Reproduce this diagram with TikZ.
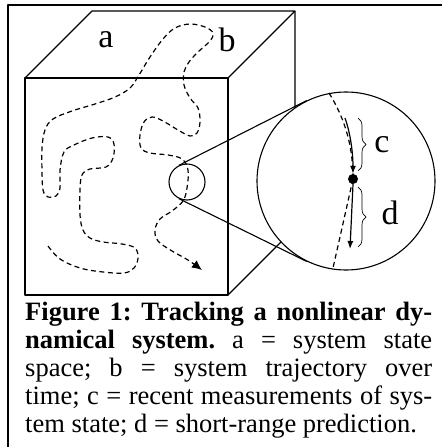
\documentclass[tikz,border=0pt]{standalone}
\usepackage{fontspec}
\setmainfont{Liberation Serif}
\usetikzlibrary{arrows.meta,decorations.pathreplacing,calc}
\definecolor{cInk}{HTML}{000000}

\begin{document}
\begin{tikzpicture}[
  x=1pt,y=-1pt,line join=round,
  edge/.style={line width=1.1pt,color=cInk},
  frame/.style={line width=2.2pt,color=cInk},
  traj/.style={line width=1.2pt,color=cInk,dash pattern=on 5pt off 3.5pt},
  trajend/.style={traj,-{Latex[length=10pt,width=9pt]}},
  meas/.style={line width=1.2pt,color=cInk,-{Latex[length=8pt,width=6pt]}},
  ring/.style={circle,draw,line width=1.1pt,inner sep=0pt},
  pt/.style={circle,fill=cInk,inner sep=0pt,minimum size=10pt},
  brc/.style={decorate,decoration={brace,amplitude=8pt},line width=0.7pt},
  lbl/.style={font=\fontsize{34}{36}\selectfont,inner sep=0pt},
  captxt/.style={font=\fontsize{26.5}{28}\selectfont\frenchspacing,
              text width=407pt,align=justify,inner sep=0pt},
]
\useasboundingbox (0,0) rectangle (442,447);

% frame, open at the right and bottom
\draw[frame] (8,447) -- (8,5) -- (442,5);

% ====================================================== state space cube
\draw[edge] (25,78) rectangle (228,295);
\draw[edge] (25,78) -- (92,11) -- (295,11) -- (228,78);
\draw[edge] (295,11) -- (295,228) -- (228,295);

\node[lbl] (la) at (106,40) {a};
\node[lbl] (lb) at (227,40) {b};

% trajectory through the state space
\draw[trajend] plot[smooth,tension=0.6] coordinates {
  (48,246) (60,259) (80,268) (103,272) (124,273) (134,268) (138,258)
  (135,248) (122,244) (103,242) (90,238) (83,230) (80,215) (80,190)
  (82,175) (90,169) (106,167) (113,158) (114,144) (108,137) (92,138)
  (74,145) (64,152) (60,170) (60,188) (56,196) (48,197) (43,190)
  (42,170) (42,148) (45,130) (53,119) (72,111) (95,104) (115,97)
  (130,88) (139,75) (150,57) (163,39) (175,28) (190,24) (205,27)
  (213,33) (210,41) (198,52) (189,62) (184,72) (184,85) (190,98)
  (198,108) (200,122) (197,133) (190,136) (178,130) (163,121)
  (152,117) (144,122) (140,135) (141,148) (150,153) (168,155)
  (182,159) (188,170) (187,188) (183,201) (172,211) (160,219)
  (155,230) (158,241) (172,251) (188,260) (202,270)};

% ====================================================== magnifier
\node[ring,minimum size=36pt] (zoom) at (187,182) {};
\node[ring,minimum size=178pt,fill=white] (lens) at (346,181) {};
\draw[edge] (zoom.116.5) -- (lens.116.5);
\draw[edge] (zoom.-116.5) -- (lens.-116.5);

% close-up of the trajectory
\node[pt] (now) at (353,179) {};
\coordinate (ltop) at (329,93);
\coordinate (lbot) at (333,268);
\coordinate (cbeg) at (345,118);
\coordinate (dend) at (350,249);
\draw[traj] (ltop) .. controls (347,122) and (353,150) .. (now.center);
\draw[traj] (now.center) -- (lbot);
\draw[meas] (cbeg) .. controls (351,135) and (353,155) .. (now.north);
\draw[meas] (now.south) -- (dend);

% measurements / prediction
\draw[brc] (358,118) -- (358,171);
\draw[brc] (358,187) -- (358,247);
\node[lbl] (lc) at (382,145) {c};
\node[lbl] (ld) at (390,213) {d};

% ====================================================== caption
\node[captxt,anchor=north west] (caption) at (25,302)
  {\textbf{Figure 1: Tracking a nonlinear dy-\linebreak namical system.}
   a = system state\linebreak space; b = system trajectory over\linebreak
   time; c = recent measurements of sys-\linebreak tem state; d = short-range
   prediction.};

\end{tikzpicture}
\end{document}
